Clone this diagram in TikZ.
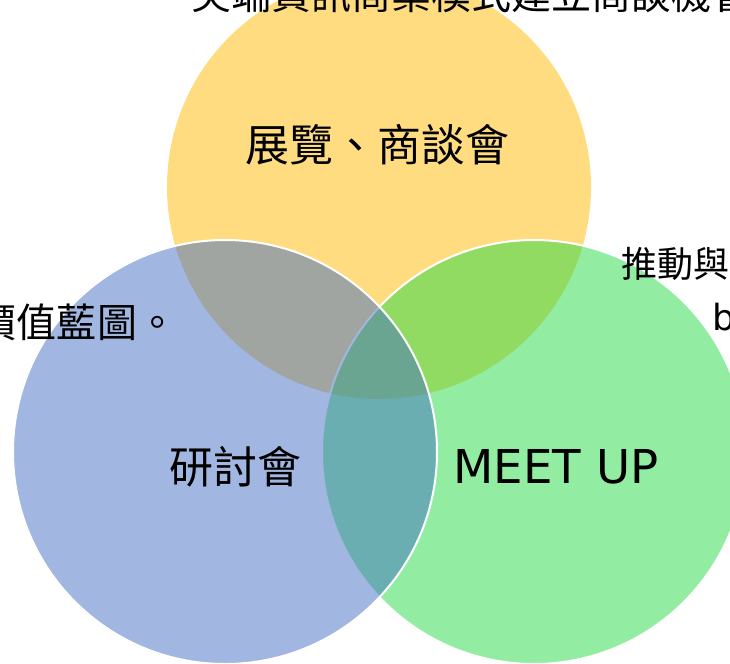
\documentclass[tikz,border=0pt]{standalone}
\usepackage{fontspec}
\newfontfamily\cjk{Noto Sans CJK TC}
\newfontfamily\latin{DejaVu Sans}
\usetikzlibrary{positioning}
\definecolor{vennyellow}{RGB}{255,185,0}
\definecolor{venngreen}{RGB}{37,219,71}
\definecolor{vennblue}{RGB}{67,111,195}

\begin{document}
\begin{tikzpicture}[x=0.75pt, y=-0.75pt, line width=1.5pt,
		venn/.style={circle, minimum size=318pt, inner sep=0pt, fill opacity=0.5},
		inlabel/.style={font=\cjk\fontsize{33}{40}\selectfont, inner sep=0pt},
		outlabel/.style={font=\cjk\fontsize{30}{36}\selectfont, inner sep=0pt}]
	\useasboundingbox (0,0) rectangle (730,663);
	\clip (0,0) rectangle (730,663);

	\node[venn, fill=vennyellow] (zhan) at (379,187) {};
	\node[venn, fill=venngreen, draw=white] (meet) at (534,452) {};
	\node[venn, fill=vennblue, draw=white] (yan) at (225,452) {};

	\node[inlabel] (zhanlab) at (377,145) {展覽、商談會};
	\node[inlabel] (yanlab) at (235,467) {研討會};
	\node[inlabel, font=\latin\fontsize{35}{42}\selectfont] (meetlab) at (556,467) {MEET UP};

	\node[outlabel, anchor=base west] (top) at (190,10) {尖端資訊商業模式建立商談機會};
	\node[outlabel, anchor=base east] (left) at (178,337) {價值藍圖。};
	\node[outlabel, font=\cjk\fontsize{27}{32}\selectfont, anchor=base west] (right) at (620,277) {推動與};
	\node[outlabel, font=\latin\fontsize{27}{32}\selectfont, anchor=base west] (rightb) at (711,330) {b};
\end{tikzpicture}
\end{document}
